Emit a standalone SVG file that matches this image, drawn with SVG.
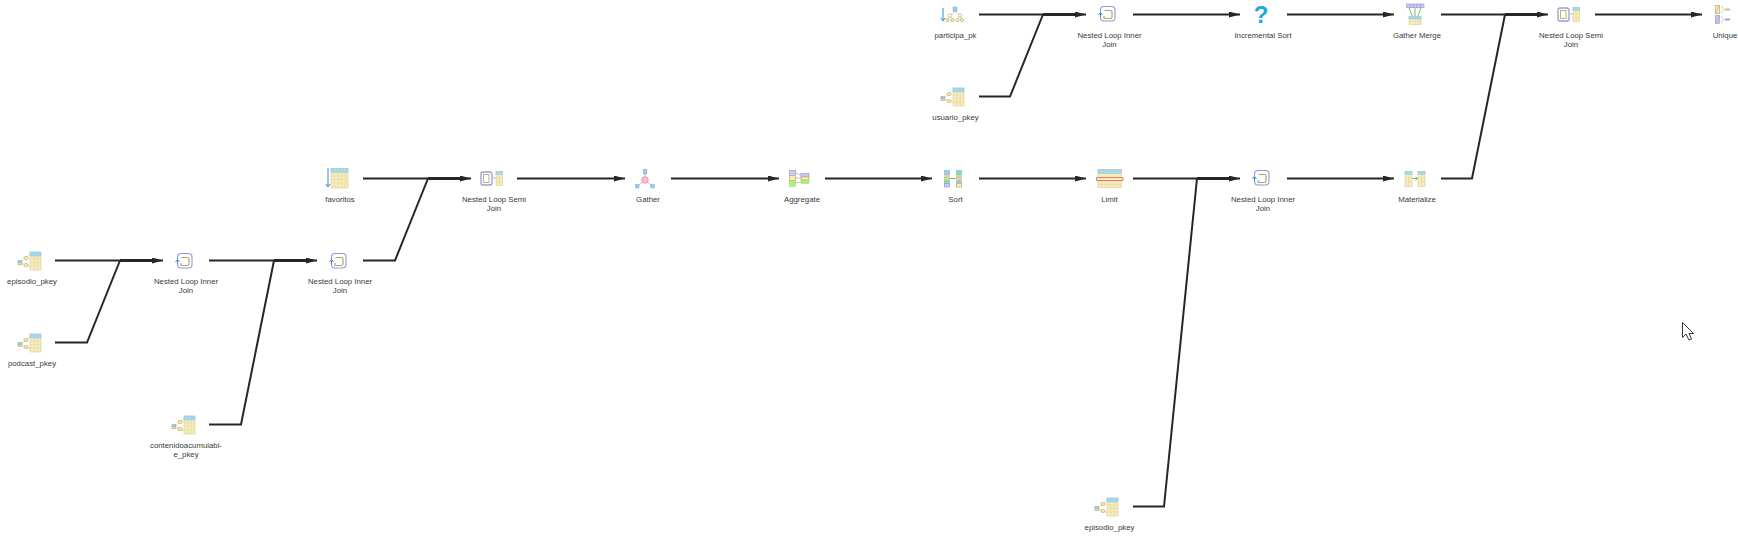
<svg xmlns="http://www.w3.org/2000/svg" width="1738" height="547" viewBox="0 0 1738 547">
<style>
text{font-family:"Liberation Sans",Arial,sans-serif;font-size:7.8px;fill:#3a3a3a;text-anchor:middle}
.c{fill:none;stroke:#262626;stroke-width:2}
.t{fill:none;stroke:#262626;stroke-width:3}
.a{marker-end:url(#arr)}
.tb{fill:#f6ecbc;stroke:#dcca90;stroke-width:.6}
.hd{fill:#a4d8ee;stroke:#88c4de;stroke-width:.4}
.gr{stroke:#e2d49c;stroke-width:.5;fill:none}
.tan{fill:#f6ecbc;stroke:#c9b26e;stroke-width:.8}
.pur{fill:#c9c9f2;stroke:#9a9ae0;stroke-width:.7}
.blu{fill:#8fd0ea;stroke:#6fb0d8;stroke-width:.5}
.grn{fill:#b4ec7e;stroke:#8ccc5c;stroke-width:.4}
.gl{stroke:#5cb85c;stroke-width:.9;fill:none}
.bl{stroke:#3f88c8;stroke-width:1;fill:none}
</style>
<defs>
<marker id="arr" markerUnits="userSpaceOnUse" markerWidth="11" markerHeight="6" refX="11" refY="3" orient="auto"><path d="M0 0L11 3L0 6z" fill="#262626"/></marker>
<g id="idx">
<path d="M-10 1.500L-6-2M-10 3L-6 5M-5-3L-2-6M-5 5L-2 7" stroke="#d5c285" stroke-width=".6" fill="none"/>
<rect x="-2" y="-8" width="11" height="18" class="tb"/><rect x="-2" y="-8" width="11" height="4" class="hd"/>
<path d="M-2 -1H9M-2 2.500H9M-2 6H9M1.700-4V10M5.300-4V10" class="gr"/>
<ellipse cx="-6" cy="-2" rx="2.200" ry="1.500" class="tan"/><ellipse cx="-6" cy="5" rx="2.200" ry="1.500" class="tan"/>
<rect x="-14" y=".5" width="3.800" height="2.300" class="blu"/><rect x="-14" y="2.800" width="3.800" height="1.700" class="tan"/>
</g>
<g id="inner">
<rect x="-7" y="-7.500" width="14.500" height="14.500" rx="3.500" fill="#fff" stroke="#9494e2" stroke-width="1.100"/>
<path d="M-3-3.500H3Q4.500-3.500 4.500-2V3Q4.500 4.500 3 4.500H-3.500V2" fill="none" stroke="#b8a25c" stroke-width="1.200"/>
<path d="M-7 3V-.5M-9 1L-7-1.500L-5 1" class="bl"/>
</g>
<g id="semi">
<rect x="-13" y="-6" width="11" height="13" rx="2" fill="#fff" stroke="#9a9ae0" stroke-width="1.300"/>
<rect x="-10.500" y="-3.500" width="5.500" height="8" fill="#fff" stroke="#c9b26e"/>
<path d="M-.5 0H1.500" class="gl"/>
<rect x="2" y="-6.500" width="6.500" height="14" class="tb"/><rect x="2" y="-6.500" width="6.500" height="3" class="hd"/>
<path d="M5.200-3.500V7.500M2 0H8.500M2 3.500H8.500" class="gr"/>
</g>
</defs>

<g id="connectors">
<path class="c a" d="M55 260.500H163"/>
<path class="c" d="M55 342.500H87L120 260.500"/><path class="t" d="M120 260.500H155"/>
<path class="c a" d="M209 260.500H317"/>
<path class="c" d="M209 424.500H241L274 260.500"/><path class="t" d="M274 260.500H309"/>
<path class="c a" d="M363 178.500H471"/>
<path class="c" d="M363 260.500H395L428 178.500"/><path class="t" d="M428 178.500H463"/>
<path class="c a" d="M517 178.500H625"/>
<path class="c a" d="M671 178.500H779"/>
<path class="c a" d="M825 178.500H932"/>
<path class="c a" d="M979 178.500H1086"/>
<path class="c a" d="M1133 178.500H1240"/>
<path class="c" d="M1133 506.500H1164L1197 178.500"/><path class="t" d="M1197 178.500H1232"/>
<path class="c a" d="M1287 178.500H1394"/>
<path class="c a" d="M979 14.500H1086"/>
<path class="c" d="M979 96.500H1010L1043 14.500"/><path class="t" d="M1043 14.500H1078"/>
<path class="c a" d="M1133 14.500H1240"/>
<path class="c a" d="M1287 14.500H1394"/>
<path class="c a" d="M1441 14.500H1548"/>
<path class="c" d="M1441 178.500H1472L1505 14.500"/><path class="t" d="M1505 14.500H1540"/>
<path class="c a" d="M1595 14.500H1702"/>
</g>

<g id="n-episodio1"><use href="#idx" x="32" y="260"/><text x="32" y="284">episodio_pkey</text></g>
<g id="n-podcast"><use href="#idx" x="32" y="342"/><text x="32" y="366">podcast_pkey</text></g>
<g id="n-contenido"><use href="#idx" x="186" y="424"/><text x="186" y="448">contenidoacumulabl-</text><text x="186" y="457">e_pkey</text></g>
<g id="n-nl1"><use href="#inner" x="184.500" y="261"/><text x="186" y="284">Nested Loop Inner</text><text x="186" y="293">Join</text></g>
<g id="n-nl2"><use href="#inner" x="338.500" y="261"/><text x="340" y="284">Nested Loop Inner</text><text x="340" y="293">Join</text></g>
<g id="n-favoritos">
<path d="M328 168V186M326 184L328 187L330 184" class="bl"/>
<rect x="331" y="168.500" width="17" height="19.500" class="tb"/><rect x="331" y="168.500" width="17" height="4" class="hd"/>
<path d="M331 176H348M331 179.500H348M331 183H348M334.500 172.500V188M338 172.500V188M341.500 172.500V188M345 172.500V188M334.500 168.500V172.500M338 168.500V172.500M341.500 168.500V172.500M345 168.500V172.500" class="gr"/>
<text x="340" y="202">favoritos</text></g>
<g id="n-semi1"><use href="#semi" x="494" y="178"/><text x="494" y="202">Nested Loop Semi</text><text x="494" y="211">Join</text></g>
<g id="n-gather">
<path d="M645 174V180L638 186M645 180L652 186" stroke="#e08a9a" stroke-width=".7" fill="none"/>
<rect x="643.300" y="169.500" width="3.500" height="4.500" class="blu"/><rect x="635.500" y="184.500" width="3.500" height="3.500" class="blu"/><rect x="650.800" y="184.500" width="3.500" height="3.500" class="blu"/>
<circle cx="645" cy="180" r="3.300" fill="#f7bfd0" stroke="#e08a9a" stroke-width=".7"/>
<text x="648" y="202">Gather</text></g>
<g id="n-aggregate">
<rect x="789.500" y="170.500" width="6" height="5" class="pur"/><rect x="789.500" y="175.500" width="6" height="5" class="tan"/><rect x="789.500" y="180.500" width="6" height="6" class="grn"/>
<rect x="801" y="173.500" width="8" height="3.500" class="pur"/><rect x="801" y="177" width="8" height="3" class="tan"/><rect x="801" y="180" width="8" height="3.500" class="grn"/>
<path d="M795.500 173L801 175M795.500 178L801 178M795.500 183L801 182" stroke="#888" stroke-width=".5" fill="none"/>
<text x="802" y="202">Aggregate</text></g>
<g id="n-sort">
<rect x="944.500" y="170.500" width="5" height="4" class="blu"/><rect x="944.500" y="174.500" width="5" height="3" fill="#f3c6c6" stroke="#e0a0a0" stroke-width=".4"/><rect x="944.500" y="177.500" width="5" height="3.500" class="grn"/><rect x="944.500" y="181" width="5" height="2.500" class="blu"/><rect x="944.500" y="183.500" width="5" height="3.500" class="pur"/>
<rect x="956.500" y="170.500" width="5" height="4" class="blu"/><rect x="956.500" y="174.500" width="5" height="3" class="grn"/><rect x="956.500" y="177.500" width="5" height="3.500" fill="#f3c6c6" stroke="#e0a0a0" stroke-width=".4"/><rect x="956.500" y="181" width="5" height="2.500" class="blu"/><rect x="956.500" y="183.500" width="5" height="3.500" class="tan"/>
<path d="M950 178.500H956" class="gl"/>
<text x="955.500" y="202">Sort</text></g>
<g id="n-limit">
<rect x="1098" y="169.500" width="23.500" height="18" class="tb"/><rect x="1098" y="169.500" width="23.500" height="4" class="hd"/>
<path d="M1098 181H1122M1098 184.500H1122M1102 181V188M1106 181V188M1110 181V188M1114 181V188M1118 181V188M1102 169.500V173.500M1106 169.500V173.500M1110 169.500V173.500M1114 169.500V173.500M1118 169.500V173.500" class="gr"/>
<path d="M1096.500 177.500H1123M1096.500 180.500H1123" stroke="#e06060" stroke-width=".8"/>
<path d="M1096.500 177.500V180.500M1123 177.500V180.500" stroke="#6cbf5c" stroke-width="1"/>
<text x="1109.500" y="202">Limit</text></g>
<g id="n-episodio2"><use href="#idx" x="1109" y="506"/><text x="1109.500" y="530">episodio_pkey</text></g>
<g id="n-nl3"><use href="#inner" x="1261.500" y="178"/><text x="1263" y="202">Nested Loop Inner</text><text x="1263" y="211">Join</text></g>
<g id="n-materialize">
<rect x="1405" y="171.500" width="7" height="15" class="tb"/><rect x="1405" y="171.500" width="7" height="3" class="hd"/>
<rect x="1418" y="171.500" width="7" height="15" class="tb"/><rect x="1418" y="171.500" width="7" height="3" class="hd"/>
<path d="M1408.500 174.500V186.500M1405 178H1412M1405 182H1412M1421.500 174.500V186.500M1418 178H1425M1418 182H1425" class="gr"/>
<path d="M1412.500 178.500H1417.500M1415.500 177L1417.500 178.500L1415.500 180" class="gl"/>
<text x="1417" y="202">Materialize</text></g>
<g id="n-participa">
<path d="M943 8V20M941 18L943 21L945 18" class="bl"/>
<path d="M955 11L950 16M955 11L960 16M950 16L947.500 19M950 16L952.500 19M960 16L957.500 19M960 16L962 19" stroke="#d5c285" stroke-width=".6" fill="none"/>
<rect x="953" y="7" width="4" height="4.500" class="blu"/>
<circle cx="950" cy="15.500" r="1.800" fill="#fff" stroke="#c9b26e" stroke-width=".8"/><circle cx="960" cy="15.500" r="1.800" fill="#fff" stroke="#c9b26e" stroke-width=".8"/>
<circle cx="947.500" cy="20" r="1.600" class="tan"/><circle cx="952.500" cy="20" r="1.600" class="tan"/><circle cx="957.500" cy="20" r="1.600" class="tan"/><circle cx="962" cy="20" r="1.600" class="tan"/>
<text x="955.500" y="38">participa_pk</text></g>
<g id="n-usuario"><use href="#idx" x="955" y="96"/><text x="955.500" y="120">usuario_pkey</text></g>
<g id="n-nl4"><use href="#inner" x="1107.500" y="14"/><text x="1109.500" y="38">Nested Loop Inner</text><text x="1109.500" y="47">Join</text></g>
<g id="n-incsort"><text x="1261" y="23" style="font-size:24px;font-weight:bold;fill:#1fa9e2">?</text><text x="1263" y="38">Incremental Sort</text></g>
<g id="n-gathermerge">
<path d="M1409 8L1413 18M1415 8V18M1421 8L1417 18" stroke="#5cb85c" stroke-width=".9" fill="none"/>
<rect x="1406.500" y="4" width="17.500" height="3.500" class="pur"/><path d="M1410 4V7.500M1413.500 4V7.500M1417 4V7.500M1420.500 4V7.500" stroke="#8a8ad8" stroke-width=".6"/>
<rect x="1409" y="16.500" width="12" height="8" class="tb"/><rect x="1409" y="16.500" width="12" height="2.500" class="hd"/>
<path d="M1415 19V24.500M1409 21.500H1421" class="gr"/>
<text x="1417" y="38">Gather Merge</text></g>
<g id="n-semi2"><use href="#semi" x="1571" y="14"/><text x="1571" y="38">Nested Loop Semi</text><text x="1571" y="47">Join</text></g>
<g id="n-unique">
<rect x="1715.500" y="5.500" width="4" height="8" class="tan"/><rect x="1715.500" y="15.500" width="4" height="8" class="pur"/>
<path d="M1716 13L1719 6M1716 23L1719 16" stroke="#c88" stroke-width=".5"/>
<path d="M1721 6L1724 9.500L1721 13M1721 16L1724 19.500L1721 23" stroke="#9cc" stroke-width=".8" fill="none"/>
<path d="M1725 9.500H1730" stroke="#d8c078" stroke-width="2"/><path d="M1725 19.500H1730" stroke="#a0a0e0" stroke-width="2"/>
<text x="1725" y="38">Unique</text></g>
<path id="cursor" d="M1682.500 322.500V337.500L1686 334L1689 340L1691.500 339L1689 333.500H1693.500Z" fill="#fff" stroke="#222" stroke-width=".9"/>
</svg>
